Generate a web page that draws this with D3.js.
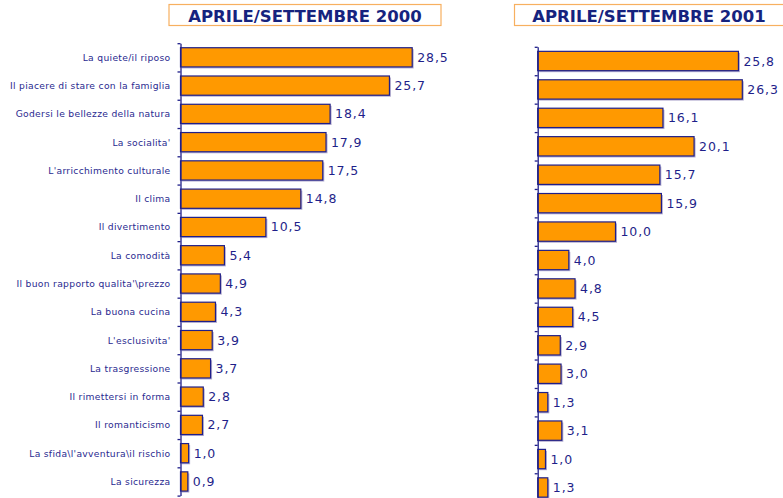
<!DOCTYPE html>
<html>
<head>
<meta charset="utf-8">
<script src="https://cdn.jsdelivr.net/npm/d3@7"></script>
<style>
  body { margin: 0; background: #fff; }
  svg { display: block; }
</style>
</head>
<body>
<svg id="chart" width="783" height="498"></svg>
<script>
// categories, top to bottom
const categories = [
  "La quiete/il riposo",
  "Il piacere di stare con la famiglia",
  "Godersi le bellezze della natura",
  "La socialita'",
  "L'arricchimento culturale",
  "Il clima",
  "Il divertimento",
  "La comodità",
  "Il buon rapporto qualita'\\prezzo",
  "La buona cucina",
  "L'esclusivita'",
  "La trasgressione",
  "Il rimettersi in forma",
  "Il romanticismo",
  "La sfida\\l'avventura\\il rischio",
  "La sicurezza"
];
const values2000 = [28.5, 25.7, 18.4, 17.9, 17.5, 14.8, 10.5, 5.4, 4.9, 4.3, 3.9, 3.7, 2.8, 2.7, 1.0, 0.9];
const values2001 = [25.8, 26.3, 16.1, 20.1, 15.7, 15.9, 10.0, 4.0, 4.8, 4.5, 2.9, 3.0, 1.3, 3.1, 1.0, 1.3];
const titles = ["APRILE/SETTEMBRE 2000", "APRILE/SETTEMBRE 2001"];

const navy = "#1f1f8a";
const orange = "#ff9900";
const svg = d3.select("#chart");

const fmt = v => d3.format(".1f")(v).replace(".", ",");

// one panel per period
function panel(values, title, opt) {
  const g = svg.append("g");

  // title box
  g.append("rect")
    .attr("x", opt.boxX).attr("y", 4.5)
    .attr("width", opt.boxW).attr("height", 21)
    .attr("fill", "#fff")
    .attr("stroke", "#f7b060").attr("stroke-width", 1.2);
  g.append("text")
    .attr("x", opt.titleX).attr("y", 22)
    .attr("text-anchor", "middle")
    .attr("font-family", "DejaVu Sans, Verdana, sans-serif")
    .attr("font-weight", "bold")
    .attr("font-size", 16.5)
    .attr("fill", "#16237e")
    .text(title);

  const y = d3.scaleBand()
    .domain(categories)
    .range([opt.top, opt.bottom])
    .paddingInner(0.32)
    .paddingOuter(0.16);

  const x = d3.scaleLinear()
    .domain([0, 1])
    .range([opt.x0, opt.x0 + opt.pxPerUnit]);

  // shadows
  g.selectAll("rect.shadow")
    .data(values)
    .enter()
    .append("rect")
    .attr("class", "shadow")
    .attr("x", x(0) + 1.5)
    .attr("y", (d, i) => y(categories[i]) + 1.5)
    .attr("width", d => x(d) - x(0))
    .attr("height", y.bandwidth())
    .attr("fill", "#b4aed0");

  g.selectAll("rect.bar")
    .data(values)
    .enter()
    .append("rect")
    .attr("class", "bar")
    .attr("x", x(0))
    .attr("y", (d, i) => y(categories[i]))
    .attr("width", d => x(d) - x(0))
    .attr("height", y.bandwidth())
    .attr("fill", orange)
    .attr("stroke", navy)
    .attr("stroke-width", 1.2);

  g.selectAll("text.val")
    .data(values)
    .enter()
    .append("text")
    .attr("class", "val")
    .attr("x", d => x(d) + 5)
    .attr("y", (d, i) => y(categories[i]) + y.bandwidth() / 2 + 4.5)
    .attr("font-family", "DejaVu Sans, Verdana, sans-serif")
    .attr("font-size", 12.5)
    .attr("letter-spacing", 0.9)
    .attr("fill", navy)
    .text(fmt);

  // axis with ticks at band boundaries
  const axisY = d3.scaleLinear().domain([0, categories.length]).range([opt.top, opt.bottom]);
  const axis = d3.axisLeft(axisY)
    .tickValues(d3.range(categories.length + 1))
    .tickSize(3)
    .tickSizeOuter(0)
    .tickFormat("");
  const ag = g.append("g")
    .attr("transform", `translate(${opt.x0},0)`)
    .call(axis);
  ag.select(".domain").attr("stroke", navy).attr("stroke-width", 1.3);
  ag.selectAll(".tick line").attr("stroke", navy).attr("stroke-width", 1.3);

  if (opt.labels) {
    g.selectAll("text.cat")
      .data(categories)
      .enter()
      .append("text")
      .attr("class", "cat")
      .attr("x", opt.x0 - 10)
      .attr("y", d => y(d) + y.bandwidth() / 2 + 3.5)
      .attr("text-anchor", "end")
      .attr("font-family", "DejaVu Sans, Verdana, sans-serif")
      .attr("font-size", 9.2)
      .attr("letter-spacing", 0.3)
      .attr("fill", "#2a2a90")
      .text(d => d);
  }
}

panel(values2000, titles[0], {
  boxX: 169, boxW: 272, titleX: 305,
  top: 43.2, bottom: 495.6, x0: 180.5, pxPerUnit: 8.13, labels: true
});
panel(values2001, titles[1], {
  boxX: 514.5, boxW: 275, titleX: 649,
  top: 46.8, bottom: 501.7, x0: 537.7, pxPerUnit: 7.78, labels: false
});
</script>
</body>
</html>
